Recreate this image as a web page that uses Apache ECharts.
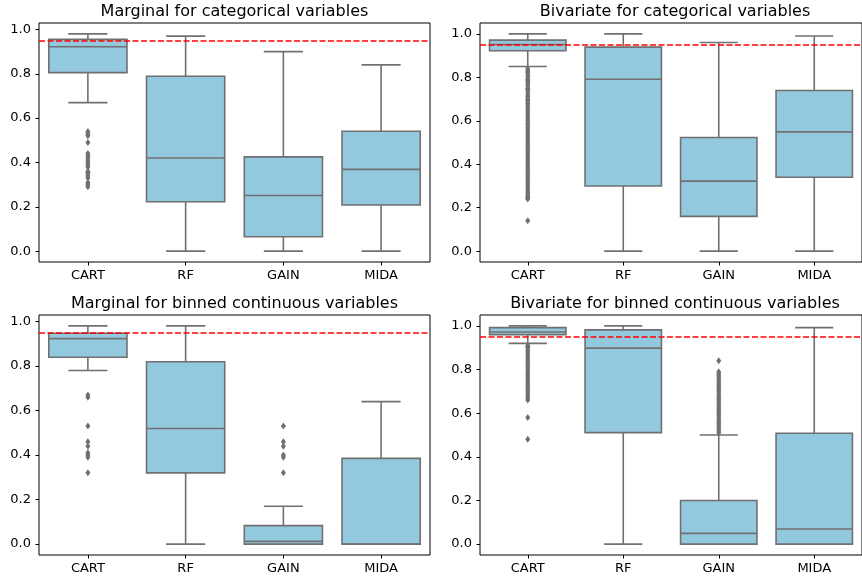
<!DOCTYPE html>
<html>
<head>
<meta charset="utf-8">
<script src="https://cdn.jsdelivr.net/npm/echarts@6/dist/echarts.min.js"></script>
<style>
html,body{margin:0;padding:0;background:#fff;}
#chart{width:862px;height:577px;}
</style>
</head>
<body>
<div id="chart"></div>
<script>
// ---------- data ----------
const categories = ['CART', 'RF', 'GAIN', 'MIDA'];
const panelTitles = [
  'Marginal for categorical variables',
  'Bivariate for categorical variables',
  'Marginal for binned continuous variables',
  'Bivariate for binned continuous variables'
];
const yTickValues = [0, 0.2, 0.4, 0.6, 0.8, 1.0];
const refLine = 0.95;

// box stats per category: [lowerWhisker, Q1, median, Q3, upperWhisker]
const margCatStats = [
  [0.67, 0.805, 0.922, 0.955, 0.98],
  [0.0, 0.223, 0.42, 0.789, 0.97],
  [0.0, 0.065, 0.251, 0.425, 0.90],
  [0.0, 0.208, 0.369, 0.541, 0.84]
];
const bivCatStats = [
  [0.85, 0.922, 0.951, 0.971, 1.0],
  [0.0, 0.30, 0.791, 0.939, 1.0],
  [0.0, 0.16, 0.322, 0.523, 0.96],
  [0.0, 0.34, 0.549, 0.739, 0.99]
];
const margBinStats = [
  [0.78, 0.839, 0.923, 0.947, 0.98],
  [0.0, 0.32, 0.519, 0.819, 0.98],
  [0.0, 0.0, 0.012, 0.083, 0.17],
  [0.0, 0.0, 0.0, 0.385, 0.64]
];
const bivBinStats = [
  [0.92, 0.96, 0.972, 0.992, 1.0],
  [0.0, 0.511, 0.898, 0.982, 1.0],
  [0.0, 0.0, 0.049, 0.20, 0.50],
  [0.0, 0.0, 0.069, 0.508, 0.992]
];

// outliers
const margCatOutCART = [0.54, 0.535, 0.525, 0.52, 0.49, 0.44, 0.43, 0.42, 0.41, 0.40, 0.39, 0.38, 0.36, 0.355, 0.35, 0.34, 0.33, 0.31, 0.30, 0.29];
const bivCatOutCART = [0.84, 0.83, 0.825, 0.82, 0.81, 0.80, 0.79, 0.785, 0.78, 0.77, 0.76, 0.75, 0.745, 0.74, 0.73, 0.72, 0.71, 0.70, 0.695, 0.69, 0.68, 0.67, 0.66, 0.65, 0.64, 0.63, 0.62, 0.61, 0.60, 0.59, 0.58, 0.57, 0.56, 0.55, 0.54, 0.53, 0.52, 0.51, 0.50, 0.49, 0.48, 0.47, 0.46, 0.45, 0.44, 0.43, 0.42, 0.41, 0.40, 0.39, 0.38, 0.37, 0.36, 0.35, 0.34, 0.33, 0.32, 0.31, 0.30, 0.29, 0.28, 0.27, 0.26, 0.25, 0.245, 0.24, 0.14];
const margBinOutCART = [0.67, 0.66, 0.53, 0.46, 0.44, 0.41, 0.40, 0.39, 0.32];
const margBinOutGAIN = [0.53, 0.46, 0.44, 0.40, 0.39, 0.32];
const bivBinOutCART = [0.91, 0.905, 0.90, 0.89, 0.88, 0.87, 0.86, 0.85, 0.84, 0.83, 0.82, 0.81, 0.80, 0.79, 0.78, 0.77, 0.76, 0.75, 0.74, 0.73, 0.72, 0.71, 0.70, 0.69, 0.68, 0.67, 0.66, 0.58, 0.48];
const bivBinOutGAIN = [0.84, 0.79, 0.78, 0.77, 0.76, 0.75, 0.74, 0.73, 0.72, 0.71, 0.70, 0.69, 0.68, 0.67, 0.66, 0.65, 0.64, 0.63, 0.62, 0.61, 0.60, 0.59, 0.58, 0.57, 0.56, 0.55, 0.54, 0.53, 0.52, 0.51];

// ---------- styling / layout ----------
const FONT = 'DejaVu Sans';
const BOX_FILL = '#93c9de';
const LINE_GRAY = '#707070';

const panels = [
  { title: panelTitles[0], stats: margCatStats, outliers: [[0, margCatOutCART]], grid: { left: 39, top: 23, width: 391, height: 239 }, yMin: -0.049, yMax: 1.029 },
  { title: panelTitles[1], stats: bivCatStats, outliers: [[0, bivCatOutCART]], grid: { left: 480, top: 23, width: 390, height: 239 }, yMin: -0.05, yMax: 1.05 },
  { title: panelTitles[2], stats: margBinStats, outliers: [[0, margBinOutCART], [2, margBinOutGAIN]], grid: { left: 39, top: 315, width: 391, height: 240 }, yMin: -0.049, yMax: 1.029 },
  { title: panelTitles[3], stats: bivBinStats, outliers: [[0, bivBinOutCART], [2, bivBinOutGAIN]], grid: { left: 480, top: 315, width: 390, height: 240 }, yMin: -0.05, yMax: 1.05 }
];

function renderBox(params, api) {
  const x = api.value(0);
  const mn = api.value(1), q1 = api.value(2), md = api.value(3), q3 = api.value(4), mx = api.value(5);
  const cx = api.coord([x, md])[0];
  const band = api.size([1, 0])[0];
  const w = band * 0.8;
  const cw = w / 2;
  const yMn = api.coord([x, mn])[1];
  const yQ1 = api.coord([x, q1])[1];
  const yMd = api.coord([x, md])[1];
  const yQ3 = api.coord([x, q3])[1];
  const yMx = api.coord([x, mx])[1];
  const ls = { stroke: LINE_GRAY, lineWidth: 1.6 };
  return {
    type: 'group',
    children: [
      { type: 'line', shape: { x1: cx, y1: yQ1, x2: cx, y2: yMn }, style: ls },
      { type: 'line', shape: { x1: cx, y1: yQ3, x2: cx, y2: yMx }, style: ls },
      { type: 'line', shape: { x1: cx - cw / 2, y1: yMn, x2: cx + cw / 2, y2: yMn }, style: ls },
      { type: 'line', shape: { x1: cx - cw / 2, y1: yMx, x2: cx + cw / 2, y2: yMx }, style: ls },
      { type: 'rect', shape: { x: cx - w / 2, y: yQ3, width: w, height: yQ1 - yQ3 }, style: { fill: BOX_FILL, stroke: LINE_GRAY, lineWidth: 1.6 } },
      { type: 'line', shape: { x1: cx - w / 2, y1: yMd, x2: cx + w / 2, y2: yMd }, style: ls }
    ]
  };
}

const option = {
  animation: false,
  backgroundColor: '#ffffff',
  title: [],
  grid: [],
  xAxis: [],
  yAxis: [],
  series: []
};

panels.forEach(function (p, i) {
  option.title.push({
    text: p.title,
    left: p.grid.left + p.grid.width / 2,
    top: p.grid.top - 19,
    textAlign: 'center',
    padding: 0,
    textStyle: { fontFamily: FONT, fontSize: 16, fontWeight: 'normal', color: '#000' }
  });
  option.grid.push(Object.assign({ show: true, borderColor: '#000', borderWidth: 1, backgroundColor: 'transparent' }, p.grid));
  option.xAxis.push({
    type: 'category',
    gridIndex: i,
    data: categories,
    boundaryGap: true,
    position: 'bottom',
    axisLine: { show: false, onZero: false },
    axisTick: { show: true, alignWithLabel: true, length: 3.5, lineStyle: { color: '#000', width: 1 } },
    axisLabel: { fontFamily: FONT, fontSize: 13, color: '#000', margin: 7 },
    splitLine: { show: false }
  });
  option.yAxis.push({
    type: 'value',
    gridIndex: i,
    min: p.yMin,
    max: p.yMax,
    position: 'left',
    axisLine: { show: false, onZero: false },
    axisTick: { show: true, length: 3.5, lineStyle: { color: '#000', width: 1 }, customValues: yTickValues },
    axisLabel: {
      fontFamily: FONT, fontSize: 13, color: '#000', margin: 8,
      customValues: yTickValues,
      formatter: function (v) { return Number(v).toFixed(1); }
    },
    splitLine: { show: false }
  });
  option.series.push({
    type: 'custom',
    xAxisIndex: i,
    yAxisIndex: i,
    renderItem: renderBox,
    encode: { x: 0, y: [1, 2, 3, 4, 5] },
    data: p.stats.map(function (s, k) { return [k].concat(s); }),
    z: 2
  });
  const pts = [];
  p.outliers.forEach(function (o) {
    o[1].forEach(function (v) { pts.push([o[0], v]); });
  });
  option.series.push({
    type: 'scatter',
    xAxisIndex: i,
    yAxisIndex: i,
    symbol: 'diamond',
    symbolSize: [5, 7],
    itemStyle: { color: LINE_GRAY, opacity: 1 },
    data: pts,
    z: 3,
    markLine: {
      silent: true,
      symbol: ['none', 'none'],
      label: { show: false },
      lineStyle: { color: '#ff0000', type: [6, 2.5], width: 1.5 },
      data: [{ yAxis: refLine }],
      animation: false
    }
  });
});

const chart = echarts.init(document.getElementById('chart'), null, { renderer: 'canvas' });
chart.setOption(option);
</script>
</body>
</html>
